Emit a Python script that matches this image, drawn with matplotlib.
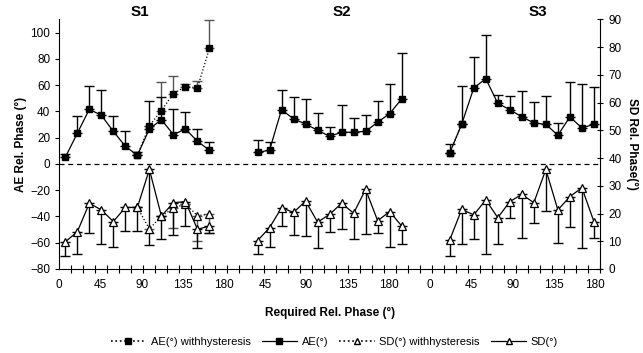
import numpy as np
import matplotlib
matplotlib.use("Agg")
import matplotlib.pyplot as plt
from matplotlib.lines import Line2D

plt.rcParams["font.family"] = ["Liberation Sans", "DejaVu Sans"]

# ---------------------------------------------------------------------------
# Data (category index along the x axis, values in degrees)
# ---------------------------------------------------------------------------
x_labels = ["0", "45", "90", "135", "180", "45", "90", "135", "180",
            "0", "45", "90", "135", "180"]
segments = ["S1", "S2", "S3"]

s1_idx = list(range(0, 13))
s2_idx = list(range(16, 29))
s3_idx = list(range(32, 45))

# AE (left axis), upper error caps
ae_s1 = [5.0, 23.3, 41.6, 37.0, 24.8, 13.4, 6.6, 26.6, 33.7, 22.3, 26.6, 17.2, 10.4]
ae_s1_top = [7.8, 36.2, 59.0, 56.3, 36.2, 24.8, 9.0, 48.0, 51.0, 41.8, 39.3, 26.6, 16.7]
ae_s2 = [8.8, 10.4, 41.3, 34.2, 30.4, 25.6, 21.0, 24.1, 24.1, 24.8, 31.7, 38.3, 49.5]
ae_s2_top = [18.0, 16.4, 56.3, 51.2, 49.7, 38.5, 28.2, 44.6, 34.7, 37.0, 48.2, 60.9, 84.5]
ae_s3 = [8.4, 30.4, 57.8, 64.9, 46.1, 41.3, 35.8, 31.2, 30.1, 21.8, 35.8, 27.4, 30.1]
ae_s3_top = [15.4, 59.6, 81.1, 97.9, 52.7, 51.7, 55.3, 46.9, 52.0, 31.2, 62.4, 60.6, 58.8]

# AE with hysteresis
aeh_s1_idx = list(range(6, 13))
aeh_s1 = [6.6, 29.1, 40.6, 53.5, 58.8, 58.0, 88.0]
aeh_s1_top = [6.6, 29.1, 62.0, 67.0, 61.0, 63.4, 109.3]
aeh_s3_idx = [32, 33]
aeh_s3 = [8.4, 30.4]
aeh_s3_top = [8.4, 30.4]

# SD (right axis), lower error caps
sd_s1 = [9.8, 13.4, 23.7, 21.3, 17.1, 22.2, 22.2, 35.9, 19.1, 23.9, 24.3, 14.3, 15.5]
sd_s1_low = [4.8, 5.4, 12.9, 8.9, 8.0, 13.7, 13.7, 8.6, 10.8, 12.3, 15.6, 7.5, 12.9]
sd_s2 = [10.2, 14.9, 22.1, 20.4, 24.5, 16.9, 19.7, 23.7, 20.1, 28.7, 17.4, 20.7, 15.5]
sd_s2_low = [5.4, 8.0, 15.6, 12.3, 11.9, 7.7, 13.4, 14.4, 10.8, 12.6, 13.1, 8.0, 8.9]
sd_s3 = [10.5, 21.5, 19.5, 24.9, 18.5, 24.3, 26.9, 23.9, 35.9, 21.3, 26.1, 29.3, 17.1]
sd_s3_low = [4.7, 8.9, 10.8, 5.4, 8.9, 18.3, 11.1, 16.5, 20.9, 9.3, 15.2, 7.5, 11.1]

# SD with hysteresis
sdh_s1_idx = list(range(6, 13))
sdh_s1 = [22.2, 14.4, 19.1, 21.9, 23.5, 19.2, 19.8]
sdh_s1_low = [22.2, 12.9, 19.1, 14.7, 23.5, 10.2, 12.9]

# ---------------------------------------------------------------------------
fig = plt.figure(figsize=(6.43, 3.53), dpi=100)
ax = fig.add_axes([0.0922, 0.238, 0.8408, 0.707])
ax2 = ax.twinx()

N_CAT = 45
ax.set_xlim(0, N_CAT)
ax.set_ylim(-80, 110)
ax2.set_ylim(0, 90)


def cx(idx):
    return np.asarray(idx) + 0.5


def draw_ae(idx, val, top, ls, ecol):
    v = np.asarray(val)
    err = np.asarray(top) - v
    ax.errorbar(cx(idx), v, yerr=[np.zeros_like(v), err], fmt="none",
                ecolor=ecol, elinewidth=1.0, capsize=3.5, capthick=1.0, zorder=2)
    ax.plot(cx(idx), v, ls=ls, color="black", lw=0.9, marker="s", ms=5,
            mfc="black", mec="black", zorder=3)


def draw_sd(idx, val, low, ls, ecol):
    v = np.asarray(val)
    err = v - np.asarray(low)
    ax2.errorbar(cx(idx), v, yerr=[err, np.zeros_like(v)], fmt="none",
                 ecolor=ecol, elinewidth=1.0, capsize=3.5, capthick=1.0, zorder=2)
    ax2.plot(cx(idx), v, ls=ls, color="black", lw=0.9, marker="^", ms=6,
             mfc="white", mec="black", mew=0.9, zorder=3)


ax.axhline(0, color="black", ls=(0, (4, 3)), lw=0.9, zorder=1)

draw_ae(aeh_s1_idx, aeh_s1, aeh_s1_top, ":", "#555555")
draw_ae(aeh_s3_idx, aeh_s3, aeh_s3_top, ":", "#555555")
for idx, v, t in [(s1_idx, ae_s1, ae_s1_top), (s2_idx, ae_s2, ae_s2_top),
                  (s3_idx, ae_s3, ae_s3_top)]:
    draw_ae(idx, v, t, "-", "black")

draw_sd(sdh_s1_idx, sdh_s1, sdh_s1_low, ":", "#555555")
for idx, v, l in [(s1_idx, sd_s1, sd_s1_low), (s2_idx, sd_s2, sd_s2_low),
                  (s3_idx, sd_s3, sd_s3_low)]:
    draw_sd(idx, v, l, "-", "black")

# axes styling
for a in (ax, ax2):
    a.spines["top"].set_visible(False)
ax.spines["right"].set_visible(False)
ax2.spines["left"].set_visible(False)
ax2.spines["bottom"].set_visible(False)

ax.set_yticks(np.arange(-80, 101, 20))
ax2.set_yticks(np.arange(0, 91, 10))
ax.tick_params(axis="y", direction="out", length=3, labelsize=8.5, width=0.8)
ax2.tick_params(axis="y", direction="inout", length=5, labelsize=8.5, width=0.8)

ax.set_xticks(np.arange(len(x_labels)) * 3.43)
ax.set_xticklabels(x_labels)
ax.set_xticks(np.arange(0, N_CAT + 1), minor=True)
ax.tick_params(axis="x", which="major", length=0, labelsize=8.5, pad=7)
ax.tick_params(axis="x", which="minor", direction="inout", length=6, width=0.8)

ax.set_ylabel("AE Rel. Phase (°)", fontsize=8.5, fontweight="bold", labelpad=2)
ax2.set_ylabel("SD Rel. Phase(°)", fontsize=8.5, fontweight="bold",
               rotation=270, labelpad=12)
ax.set_xlabel("Required Rel. Phase (°)", fontsize=8.5, fontweight="bold", labelpad=12)

for name, xc in zip(segments, [6.75, 23.5, 39.8]):
    ax.text(xc, 1.0, name, transform=ax.get_xaxis_transform(), ha="center",
            va="bottom", fontsize=11, fontweight="bold")

handles = [
    Line2D([], [], ls=":", color="black", lw=1.2, marker="s", ms=4),
    Line2D([], [], ls="-", color="black", lw=0.9, marker="s", ms=4),
    Line2D([], [], ls=":", color="black", lw=1.2, marker="^", ms=4, mfc="white"),
    Line2D([], [], ls="-", color="black", lw=0.9, marker="^", ms=4, mfc="white"),
]
labels = ["AE(°) withhysteresis", "AE(°)", "SD(°) withhysteresis", "SD(°)"]
fig.legend(handles, labels, loc="lower center", bbox_to_anchor=(0.52, -0.01),
           ncol=4, frameon=False, fontsize=8, handlelength=3.2,
           columnspacing=1.0, handletextpad=0.4)

fig.savefig("out.png", dpi=100)
